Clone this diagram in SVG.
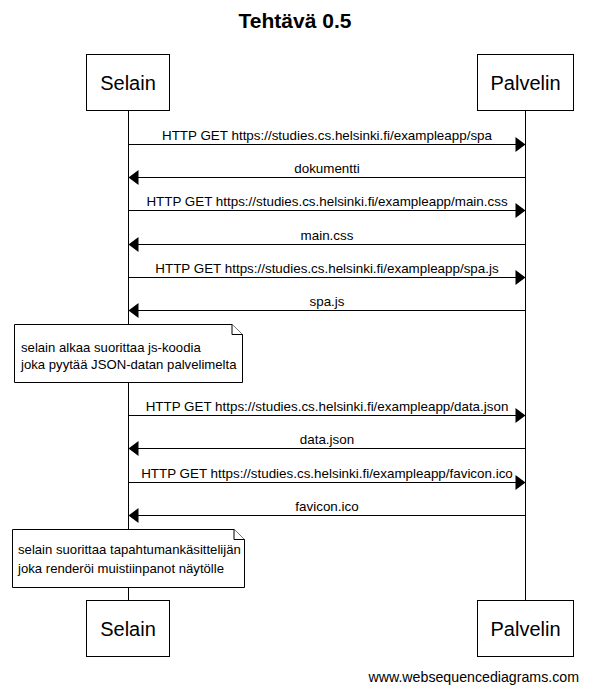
<svg xmlns="http://www.w3.org/2000/svg" width="589" height="691" viewBox="0 0 589 691">
  <defs>
    <style>
      text { font-family: "Liberation Sans", Arial, sans-serif; fill: #000; }
      .title { font-size: 21px; font-weight: bold; text-anchor: middle; }
      .actor rect { fill: #fff; stroke: #000; stroke-width: 1; }
      .actor text { font-size: 20px; text-anchor: middle; }
      .life { stroke: #000; stroke-width: 1; fill: none; }
      .msg line { stroke: #000; stroke-width: 1; }
      .msg polygon { fill: #000; stroke: none; }
      .msg text { font-size: 13.4px; text-anchor: middle; }
      .note path { fill: #fff; stroke: #000; stroke-width: 1; }
      .note text { font-size: 13.15px; }
      .footer { font-size: 14.2px; text-anchor: end; }
    </style>
  </defs>

  <rect x="0" y="0" width="589" height="691" fill="#fff"/>

  <text class="title" x="295" y="28">Tehtävä 0.5</text>

  <!-- lifelines -->
  <g id="lifelines">
    <line class="life" x1="128.5" y1="111" x2="128.5" y2="600"/>
    <line class="life" x1="525.5" y1="111" x2="525.5" y2="600"/>
  </g>

  <!-- participants, top -->
  <g id="selain-top" class="actor">
    <rect x="86.5" y="54.5" width="83" height="56"/>
    <text x="128" y="90">Selain</text>
  </g>
  <g id="palvelin-top" class="actor">
    <rect x="477.5" y="54.5" width="96" height="56"/>
    <text x="525.5" y="90">Palvelin</text>
  </g>

  <!-- messages -->
  <g id="connectors" class="msg">
    <g id="m1">
      <line x1="128.5" y1="144.5" x2="516" y2="144.5"/>
      <polygon points="525.5,144.5 515.5,137 515.5,152"/>
      <text x="327" y="140">HTTP GET https://studies.cs.helsinki.fi/exampleapp/spa</text>
    </g>
    <g id="m2">
      <line x1="138" y1="177.5" x2="525.5" y2="177.5"/>
      <polygon points="128.5,177.5 138.5,170 138.5,185"/>
      <text x="327" y="173">dokumentti</text>
    </g>
    <g id="m3">
      <line x1="128.5" y1="210.5" x2="516" y2="210.5"/>
      <polygon points="525.5,210.5 515.5,203 515.5,218"/>
      <text x="327" y="206">HTTP GET https://studies.cs.helsinki.fi/exampleapp/main.css</text>
    </g>
    <g id="m4">
      <line x1="138" y1="244.5" x2="525.5" y2="244.5"/>
      <polygon points="128.5,244.5 138.5,237 138.5,252"/>
      <text x="327" y="240">main.css</text>
    </g>
    <g id="m5">
      <line x1="128.5" y1="277.5" x2="516" y2="277.5"/>
      <polygon points="525.5,277.5 515.5,270 515.5,285"/>
      <text x="327" y="273">HTTP GET https://studies.cs.helsinki.fi/exampleapp/spa.js</text>
    </g>
    <g id="m6">
      <line x1="138" y1="310.5" x2="525.5" y2="310.5"/>
      <polygon points="128.5,310.5 138.5,303 138.5,318"/>
      <text x="327" y="306">spa.js</text>
    </g>
    <g id="m7">
      <line x1="128.5" y1="415.5" x2="516" y2="415.5"/>
      <polygon points="525.5,415.5 515.5,408 515.5,423"/>
      <text x="327" y="411">HTTP GET https://studies.cs.helsinki.fi/exampleapp/data.json</text>
    </g>
    <g id="m8">
      <line x1="138" y1="448.5" x2="525.5" y2="448.5"/>
      <polygon points="128.5,448.5 138.5,441 138.5,456"/>
      <text x="327" y="444">data.json</text>
    </g>
    <g id="m9">
      <line x1="128.5" y1="482.5" x2="516" y2="482.5"/>
      <polygon points="525.5,482.5 515.5,475 515.5,490"/>
      <text x="327" y="478">HTTP GET https://studies.cs.helsinki.fi/exampleapp/favicon.ico</text>
    </g>
    <g id="m10">
      <line x1="138" y1="515.5" x2="525.5" y2="515.5"/>
      <polygon points="128.5,515.5 138.5,508 138.5,523"/>
      <text x="327" y="511">favicon.ico</text>
    </g>
  </g>

  <!-- notes -->
  <g id="note1" class="note">
    <path d="M14.5,324.5 H232 L242.5,334.5 V382.5 H14.5 Z"/>
    <path d="M232,324.5 V334.5 H242.5" fill="none"/>
    <text x="21" y="352">selain alkaa suorittaa js-koodia</text>
    <text x="21" y="369">joka pyytää JSON-datan palvelimelta</text>
  </g>
  <g id="note2" class="note">
    <path d="M12.5,529.5 H234 L244.5,539.5 V587.5 H12.5 Z"/>
    <path d="M234,529.5 V539.5 H244.5" fill="none"/>
    <text x="18" y="554">selain suorittaa tapahtumankäsittelijän</text>
    <text x="18" y="573">joka renderöi muistiinpanot näytölle</text>
  </g>

  <!-- participants, bottom -->
  <g id="selain-bottom" class="actor">
    <rect x="86.5" y="600.5" width="83" height="56"/>
    <text x="128" y="636">Selain</text>
  </g>
  <g id="palvelin-bottom" class="actor">
    <rect x="477.5" y="600.5" width="96" height="56"/>
    <text x="525.5" y="636">Palvelin</text>
  </g>

  <text class="footer" x="579" y="682">www.websequencediagrams.com</text>
</svg>
